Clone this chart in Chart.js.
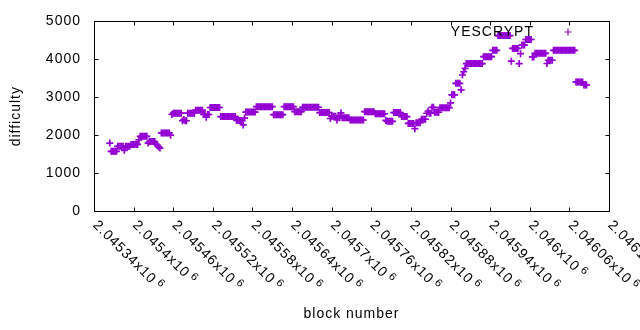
<!DOCTYPE html>
<html>
<head>
<meta charset="utf-8">
<script src="https://cdn.jsdelivr.net/npm/chart.js@4.4.1/dist/chart.umd.min.js"></script>
<style>
  html, body { margin: 0; padding: 0; background: #fff; }
  canvas { display: block; }
</style>
</head>
<body>
<canvas id="c" width="640" height="330"></canvas>
<script>
// ---- data ----
const seriesName = 'YESCRYPT';
const firstBlock = 2045364;   // block number of the first sample
const blockStep = 2;          // blocks between consecutive samples
const difficulty = [
  1790, 1575, 1575, 1575, 1575, 1575,
  1705, 1705, 1705, 1705, 1705, 1600, 1705, 1705, 1705, 1705,
  1755, 1755, 1755, 1755, 1755, 1755, 1875,
  1970, 1970, 1970, 1970, 1970, 1970,
  1790, 1830, 1830, 1830, 1830, 1830,
  1760, 1720, 1690, 1660,
  2060, 2060, 2060, 2060, 2060, 2060, 2060, 2000,
  2545, 2580, 2580, 2580, 2580, 2580, 2580, 2580,
  2380, 2410, 2380, 2380,
  2580, 2580, 2580, 2580, 2580, 2580,
  2660, 2660, 2660, 2660, 2660, 2660,
  2545, 2545, 2474, 2545, 2545,
  2730, 2730, 2730, 2730, 2730, 2730, 2730, 2730,
  2490, 2490, 2490, 2490, 2490, 2490, 2490, 2490, 2490, 2490, 2490, 2490,
  2388, 2388, 2388, 2388, 2388, 2270, 2450,
  2608, 2608, 2608, 2608, 2608, 2608, 2608, 2608,
  2752, 2752, 2752, 2752, 2752, 2752, 2752, 2752, 2752, 2752, 2752, 2752, 2752,
  2540, 2540, 2540, 2540, 2540, 2540, 2540, 2540,
  2750, 2750, 2750, 2750, 2750, 2750, 2750, 2750,
  2620, 2620, 2620, 2620, 2620, 2620,
  2736, 2736, 2736, 2736, 2736, 2736, 2736, 2736, 2736, 2736, 2736, 2736, 2736,
  2595, 2595, 2595, 2595, 2595, 2595, 2595, 2595,
  2440, 2500, 2500, 2500, 2500, 2400, 2500,
  2462, 2587, 2462, 2462, 2462, 2462, 2462, 2462,
  2400, 2400, 2400, 2400, 2400, 2400, 2400, 2400, 2400, 2400, 2400,
  2620, 2620, 2620, 2620, 2620, 2620, 2620, 2620,
  2565, 2565, 2565, 2565, 2565, 2565, 2565, 2565, 2388,
  2366, 2366, 2366, 2366, 2366,
  2596, 2596, 2596, 2596, 2596, 2596,
  2490, 2490, 2490, 2490, 2490,
  2310, 2310, 2310, 2310, 2310, 2170,
  2330, 2330, 2330, 2330, 2420, 2420, 2420, 2420,
  2578, 2630, 2578, 2578, 2734, 2734,
  2604, 2604, 2604, 2604,
  2726, 2726, 2726, 2726, 2726, 2726, 2726, 2726, 2850,
  3065, 3065, 3065, 3367, 3367, 3367, 3367,
  3195, 3586, 3672, 3760,
  3888, 3888, 3888, 3888, 3888, 3888, 3888, 3888, 3888, 3888, 3888, 3888, 3888,
  4070, 4070, 4070, 4070, 4070, 4070, 4070,
  4236, 4236, 4236, 4236,
  4627, 4627, 4627, 4627, 4627, 4627, 4627, 4627, 4627, 4627, 3950,
  4288, 4288, 4288, 4288, 4288, 3888, 4150,
  4375, 4375, 4375, 4523, 4523, 4523, 4523, 4523,
  4062, 4062, 4158, 4158, 4158, 4158, 4158, 4158, 4158, 4158, 4158, 3890,
  3976, 3976, 3976, 3976,
  4236, 4236, 4236, 4236, 4236, 4236, 4236, 4236, 4236, 4236, 4236, 4236, 4236, 4236, 4236, 4236, 4236,
  3403, 3403, 3403, 3403, 3403, 3403, 3325, 3325, 3325
];
const xTickValues = [2045340, 2045400, 2045460, 2045520, 2045580, 2045640, 2045700,
                     2045760, 2045820, 2045880, 2045940, 2046000, 2046060, 2046120];
const xTickLabels = ['2.04534', '2.0454', '2.04546', '2.04552', '2.04558', '2.04564', '2.0457',
                     '2.04576', '2.04582', '2.04588', '2.04594', '2.046', '2.04606', '2.04612'];
const yMin = 0, yMax = 5000, yStep = 500;
const xTitle = 'block number';
const yTitle = 'difficulty';

// ---- chart ----
const COLOR = '#9400d3';
const FONT = "'Liberation Sans', Arial, sans-serif";
const points = difficulty.map((v, i) => ({ x: firstBlock + i * blockStep, y: v }));

Chart.defaults.font.family = FONT;
Chart.defaults.font.size = 14;
Chart.defaults.color = '#000';

const gnuplotFrame = {
  id: 'gnuplotFrame',
  beforeDraw(chart) {
    const ctx = chart.ctx;
    ctx.save();
    ctx.fillStyle = '#fff';
    ctx.fillRect(0, 0, chart.width, chart.height);
    ctx.restore();
    ctx.letterSpacing = '1px';
  },
  beforeDatasetsDraw(chart) {
    const ctx = chart.ctx, a = chart.chartArea;
    const xs = chart.scales.x, ys = chart.scales.y;
    const L = Math.round(a.left) + 0.5, R = Math.round(a.right) + 0.5;
    const T = Math.round(a.top) + 0.5, B = Math.round(a.bottom) + 0.5;
    const tl = 4;
    ctx.save();
    ctx.strokeStyle = '#000';
    ctx.lineWidth = 1;
    ctx.beginPath();
    ctx.rect(L, T, R - L, B - T);
    ys.ticks.forEach(t => {
      const y = Math.round(ys.getPixelForValue(t.value)) + 0.5;
      ctx.moveTo(L, y); ctx.lineTo(L + tl, y);
      ctx.moveTo(R, y); ctx.lineTo(R - tl, y);
    });
    xs.ticks.forEach(t => {
      const x = Math.round(xs.getPixelForValue(t.value)) + 0.5;
      ctx.moveTo(x, B); ctx.lineTo(x, B - tl);
      ctx.moveTo(x, T); ctx.lineTo(x, T + tl);
    });
    ctx.stroke();
    ctx.restore();
  },
  afterDraw(chart) {
    const ctx = chart.ctx, xs = chart.scales.x;
    ctx.save();
    ctx.fillStyle = '#000';
    ctx.letterSpacing = '1px';
    ctx.textAlign = 'left';
    ctx.textBaseline = 'middle';
    xs.ticks.forEach((t, k) => {
      const px = xs.getPixelForValue(t.value);
      const main = xTickLabels[k] + 'x10';
      ctx.save();
      ctx.translate(px + 1, 223);
      ctx.rotate(Math.PI / 4);
      ctx.font = '14px ' + FONT;
      ctx.fillText(main, 0, 0);
      const w = ctx.measureText(main).width;
      ctx.font = '11px ' + FONT;
      ctx.fillText('6', w + 3, -4);
      ctx.restore();
    });
    // key
    ctx.font = '14px ' + FONT;
    ctx.textAlign = 'right';
    ctx.textBaseline = 'alphabetic';
    ctx.fillText(seriesName, 534, 36);
    ctx.strokeStyle = COLOR;
    ctx.lineWidth = 1.2;
    ctx.beginPath();
    ctx.moveTo(568 - 3.5, 32); ctx.lineTo(568 + 3.5, 32);
    ctx.moveTo(568, 32 - 3.5); ctx.lineTo(568, 32 + 3.5);
    ctx.stroke();
    ctx.restore();
  }
};

new Chart(document.getElementById('c'), {
  type: 'scatter',
  data: {
    datasets: [{
      label: seriesName,
      data: points,
      showLine: false,
      pointStyle: 'cross',
      pointRadius: 3.5,
      pointHoverRadius: 3.5,
      borderColor: COLOR,
      backgroundColor: COLOR,
      borderWidth: 1.7
    }]
  },
  options: {
    responsive: false,
    devicePixelRatio: 1,
    animation: false,
    events: [],
    layout: { padding: { top: 19, right: 31, left: 0, bottom: 0 } },
    plugins: { legend: { display: false }, tooltip: { enabled: false } },
    scales: {
      x: {
        type: 'linear',
        min: xTickValues[0],
        max: xTickValues[xTickValues.length - 1],
        afterBuildTicks: s => { s.ticks = xTickValues.map(v => ({ value: v })); },
        ticks: { display: false },
        grid: { display: false },
        border: { display: false },
        title: { display: true, text: xTitle, font: { size: 14, lineHeight: 1.2 }, padding: { top: 0, bottom: 7 } },
        afterFit: s => { s.height = 119; }
      },
      y: {
        min: yMin,
        max: yMax,
        ticks: { stepSize: yStep, padding: 13, font: { size: 14 }, callback: v => String(v) },
        grid: { display: false, drawTicks: false },
        border: { display: false },
        title: { display: true, text: yTitle, font: { size: 14, lineHeight: 1.2 }, padding: { top: 7.5, bottom: 0 } },
        afterFit: s => { s.width = 94; }
      }
    }
  },
  plugins: [gnuplotFrame]
});
</script>
</body>
</html>
